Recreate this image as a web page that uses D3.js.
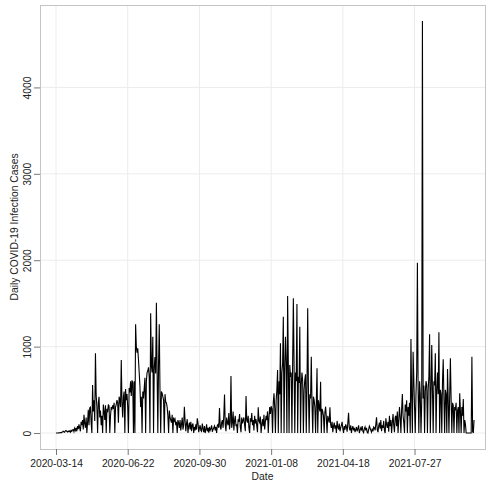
<!DOCTYPE html>
<html>
<head>
<meta charset="utf-8">
<script src="https://cdn.jsdelivr.net/npm/d3@7"></script>
<style>
body { margin: 0; background: #fff; }
text { font-family: "Liberation Sans", Arial, sans-serif; fill: #222; }
</style>
</head>
<body>
<div id="main"></div>
<script>
var startDate = "2020-03-14";
var tickDates = ["2020-03-14", "2020-06-22", "2020-09-30", "2021-01-08", "2021-04-18", "2021-07-27"];
var yTicks = [0, 1000, 2000, 3000, 4000];

// daily cases, one array per month
var mar2020 = [0,0,1,0,2,3,5,2,8,12,20,15,10,25,30,18,12,22];
var apr2020 = [15,25,10,30,20,35,40,15,55,30,60,20,80,45,100,60,20,130,90,150,40,210,110,60,180,0,120,270,90,290];
var may2020 = [300,120,0,555,250,380,140,922,440,300,0,350,420,180,260,90,200,0,330,250,150,320,0,280,240,330,310,0,200,300,280];
var jun2020 = [320,280,350,0,300,330,380,350,120,420,380,300,845,350,180,420,480,0,510,380,450,300,0,520,470,600,430,610,580,0];
var jul2020 = [600,0,1258,1000,930,980,850,700,550,300,420,0,480,400,520,640,0,600,700,720,760,650,0,1385,780,700,1115,0,760,880,690];
var aug2020 = [1508,700,0,800,1258,500,0,480,460,420,380,0,450,360,347,300,200,0,260,180,150,120,210,0,180,140,160,90,130,0,150];
var sep2020 = [120,60,150,30,100,180,40,90,305,140,20,110,160,0,80,120,40,130,20,90,110,0,70,30,100,40,170,120,10,60];
var oct2020 = [90,30,20,110,50,10,80,0,40,100,20,60,5,70,30,50,90,15,40,60,80,30,70,0,90,100,60,290,80,40,120];
var nov2020 = [150,60,200,447,100,20,180,120,90,230,40,130,660,60,120,250,30,140,200,80,100,0,160,130,220,70,10,180,110,150];
var dec2020 = [180,90,20,428,150,120,200,60,0,170,130,230,90,150,30,200,110,160,80,10,297,140,120,190,0,100,160,80,210,40,130];
var jan2021 = [200,150,250,0,180,300,220,310,280,0,350,460,300,0,380,500,730,0,600,450,1038,0,700,800,1346,0,750,1115,820,0,1585];
var feb2021 = [800,0,787,650,700,0,820,1559,780,0,700,600,1493,0,650,580,1230,0,560,700,600,0,500,620,680,0,550,1443];
var mar2021 = [500,0,450,400,883,350,0,420,380,300,0,350,749,0,380,300,250,594,0,280,250,200,0,240,305,180,0,200,160,120,297];
var apr2021 = [100,60,130,10,80,120,50,90,0,140,70,40,110,20,60,90,130,50,0,80,40,100,70,15,120,235,60,30,90,0];
var may2021 = [50,80,30,60,10,40,70,20,50,90,0,30,60,40,80,20,5,50,70,30,60,10,0,40,80,60,30,10,50,20,70];
var jun2021 = [60,30,100,182,40,10,80,120,50,150,20,90,60,140,30,0,170,100,60,130,15,200,80,150,0,120,220,90,10,180];
var jul2021 = [200,80,250,0,150,300,180,0,270,451,200,120,0,330,250,380,0,300,200,350,0,1088,400,0,941,600,300,0,450,700,1971];
var aug2021 = [500,0,600,450,0,350,4769,400,550,0,480,600,555,0,500,650,1142,0,450,1018,500,0,600,550,922,0,500,700,450,1165,0];
var sep2021 = [500,450,0,600,853,400,0,500,450,0,740,380,0,420,864,400,0,350,320,0,300,280,350,0,260,300,0,459,250,0];
var oct2021 = [300,200,393,0,150,100,0,0,0,0,0,0,0,0,883,20,0,150];

var cases = [].concat(mar2020, apr2020, may2020, jun2020, jul2020, aug2020, sep2020, oct2020, nov2020, dec2020,
    jan2021, feb2021, mar2021, apr2021, may2021, jun2021, jul2021, aug2021, sep2021, oct2021);

var width = 486,
    height = 483;
var plotL = 40, plotR = 485, plotT = 5, plotB = 449;

var parse = d3.utcParse("%Y-%m-%d");
var fmt = d3.utcFormat("%Y-%m-%d");
var t0 = parse(startDate);

var data = cases.map(function(v, i){
    return {date: d3.utcDay.offset(t0, i), value: v};
});

var x = d3.scaleUtc()
    .domain([d3.utcHour.offset(t0, -22.3 * 24), d3.utcHour.offset(t0, 599.7 * 24)])
    .range([plotL, width]);
var y = d3.scaleLinear()
    .domain([-185, 4954])
    .range([plotB, plotT]);

var svg = d3.select("#main").append("svg")
    .attr("width", width)
    .attr("height", height);

var ticks = tickDates.map(parse);

// grid
svg.append("g").selectAll("line")
    .data(ticks)
    .enter().append("line")
    .attr("x1", function(d){ return x(d); })
    .attr("x2", function(d){ return x(d); })
    .attr("y1", plotT).attr("y2", plotB)
    .attr("stroke", "#ececec");
svg.append("g").selectAll("line")
    .data(yTicks)
    .enter().append("line")
    .attr("x1", plotL).attr("x2", plotR)
    .attr("y1", function(d){ return y(d); })
    .attr("y2", function(d){ return y(d); })
    .attr("stroke", "#ececec");

// frame
svg.append("rect")
    .attr("x", plotL + 0.5).attr("y", plotT + 0.5)
    .attr("width", plotR - plotL).attr("height", plotB - plotT)
    .attr("fill", "none")
    .attr("stroke", "#c4c4c4");

// axes
var xAxis = svg.append("g")
    .attr("transform", "translate(0," + plotB + ")")
    .call(d3.axisBottom(x).tickValues(ticks).tickFormat(fmt).tickSize(6).tickPadding(5));
var yAxis = svg.append("g")
    .attr("transform", "translate(" + plotL + ",0)")
    .call(d3.axisLeft(y).tickValues(yTicks).tickFormat(d3.format("d")).tickSize(6).tickPadding(3));

svg.selectAll(".domain").remove();
svg.selectAll(".tick line").attr("stroke", "#777");
svg.selectAll(".tick text")
    .style("font-family", "'Liberation Sans', Arial, sans-serif")
    .style("font-size", "10.3px")
    .attr("fill", "#222");
yAxis.selectAll(".tick text")
    .attr("text-anchor", "middle")
    .attr("x", null).attr("dy", null)
    .attr("transform", "translate(-9,0) rotate(-90)");

// line
var line = d3.line()
    .x(function(d){ return x(d.date); })
    .y(function(d){ return y(d.value); });

svg.append("path")
    .datum(data)
    .attr("d", line)
    .attr("fill", "none")
    .attr("stroke", "#000")
    .attr("stroke-width", 1.1)
    .attr("stroke-linejoin", "miter");

// titles
svg.append("text")
    .attr("x", (plotL + plotR) / 2)
    .attr("y", 480)
    .attr("text-anchor", "middle")
    .style("font-size", "10.3px")
    .text("Date");
svg.append("text")
    .attr("transform", "translate(18," + ((plotT + plotB) / 2) + ") rotate(-90)")
    .attr("text-anchor", "middle")
    .style("font-size", "10.3px")
    .text("Daily COVID-19 Infection Cases");
</script>
</body>
</html>
